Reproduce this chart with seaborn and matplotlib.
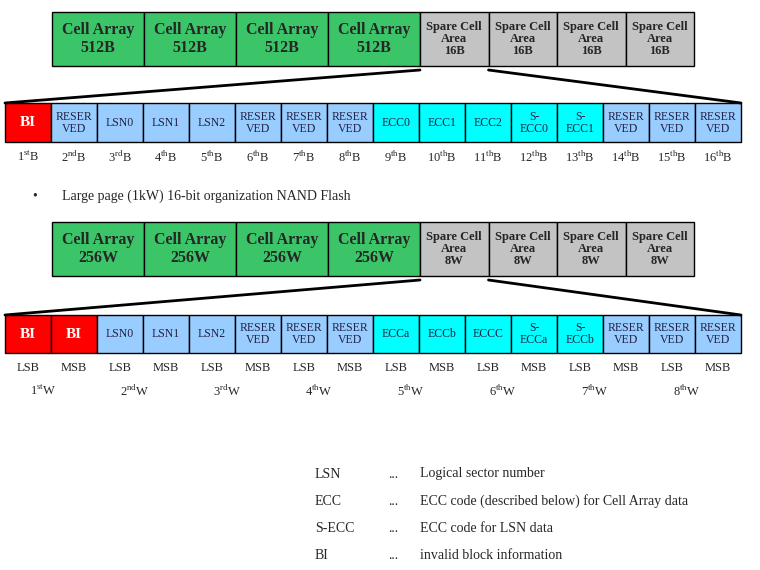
import matplotlib
matplotlib.use("Agg")
import matplotlib.pyplot as plt
import seaborn as sns

sns.set_theme(style="white")
plt.rcParams['font.family'] = ['Liberation Serif', 'DejaVu Serif']
plt.rcParams['mathtext.fontset'] = 'custom'
plt.rcParams['mathtext.rm'] = 'Liberation Serif'

top1_labels = ["Cell Array\n512B"] * 4 + ["Spare Cell\nArea\n16B"] * 4
top2_labels = ["Cell Array\n256W"] * 4 + ["Spare Cell\nArea\n8W"] * 4
top_kinds = ["cell"] * 4 + ["spare"] * 4
spare1_labels = ["BI", "RESER\nVED", "LSN0", "LSN1", "LSN2", "RESER\nVED", "RESER\nVED", "RESER\nVED",
                 "ECC0", "ECC1", "ECC2", "S-\nECC0", "S-\nECC1", "RESER\nVED", "RESER\nVED", "RESER\nVED"]
spare1_kinds = ["bi", "res", "res", "res", "res", "res", "res", "res",
                "ecc", "ecc", "ecc", "ecc", "ecc", "res", "res", "res"]
spare2_labels = ["BI", "BI", "LSN0", "LSN1", "LSN2", "RESER\nVED", "RESER\nVED", "RESER\nVED",
                 "ECCa", "ECCb", "ECCC", "S-\nECCa", "S-\nECCb", "RESER\nVED", "RESER\nVED", "RESER\nVED"]
spare2_kinds = ["bi", "bi", "res", "res", "res", "res", "res", "res",
                "ecc", "ecc", "ecc", "ecc", "ecc", "res", "res", "res"]
byte_ord = ["st", "nd", "rd", "th", "th", "th", "th", "th", "th", "th", "th", "th", "th", "th", "th", "th"]
word_ord = ["st", "nd", "rd", "th", "th", "th", "th", "th"]
lsb_msb = ["LSB", "MSB"] * 8
legend_terms = ["LSN", "ECC", "S-ECC", "BI"]
legend_desc = ["Logical sector number", "ECC code (described below) for Cell Array data",
               "ECC code for LSN data", "invalid block information"]

colors = {"cell": "#3cc568", "spare": "#c3c3c3", "bi": "#ff0000", "res": "#99ccff", "ecc": "#00ffff"}

fig = plt.figure(figsize=(7.6, 5.7), dpi=100)
ax = fig.add_axes([0, 0, 1, 1])
ax.set_xlim(0, 760)
ax.set_ylim(570, 0)
ax.axis("off")

cell_w, spare_w = 92, 68.5
top_x0 = 52
def top_row(labels, y0, y1):
    x = top_x0
    for lab, k in zip(labels, top_kinds):
        w = cell_w if k == "cell" else spare_w
        ax.bar(x, y1 - y0, width=w, bottom=y0, align="edge", color=colors[k], edgecolor="black", linewidth=1)
        if k == "cell":
            ax.text(x + w / 2, (y0 + y1) / 2, lab, ha="center", va="center", fontsize=11.5, fontweight="bold", linespacing=1.1)
        else:
            ax.text(x + w / 2, (y0 + y1) / 2, lab, ha="center", va="center", fontsize=9, fontweight="bold", linespacing=1.0)
        x += w

sx0, sw = 5, 46
def spare_row(labels, kinds, y0, y1):
    for i, (lab, k) in enumerate(zip(labels, kinds)):
        x = sx0 + i * sw
        ax.bar(x, y1 - y0, width=sw, bottom=y0, align="edge", color=colors[k], edgecolor="black", linewidth=1)
        if k == "bi":
            ax.text(x + sw / 2, (y0 + y1) / 2, lab, ha="center", va="center", fontsize=11, fontweight="bold", color="white")
        else:
            ax.text(x + sw / 2, (y0 + y1) / 2, lab, ha="center", va="center", fontsize=8.5, linespacing=1.0, color="#222244")

g0 = top_x0 + 4 * cell_w
# Section 1
top_row(top1_labels, 12, 66)
ax.plot([g0, 5], [70, 103], color="black", lw=2)
ax.plot([g0 + spare_w, 741], [70, 103], color="black", lw=2)
spare_row(spare1_labels, spare1_kinds, 103, 142)
for i, o in enumerate(byte_ord):
    ax.text(sx0 + i * sw + sw / 2, 157, f"{i + 1}$^{{\\rm {o}}}$B", ha="center", va="center", fontsize=9)

ax.text(35, 196, "•", ha="center", va="center", fontsize=10)
ax.text(62, 196, "Large page (1kW) 16-bit organization NAND Flash", ha="left", va="center", fontsize=10)

# Section 2
top_row(top2_labels, 222, 276)
ax.plot([g0, 5], [280, 315], color="black", lw=2)
ax.plot([g0 + spare_w, 741], [280, 315], color="black", lw=2)
spare_row(spare2_labels, spare2_kinds, 315, 353)
for i, lm in enumerate(lsb_msb):
    ax.text(sx0 + i * sw + sw / 2, 368, lm, ha="center", va="center", fontsize=9)
for j, o in enumerate(word_ord):
    ax.text(sx0 + (2 * j + 1) * sw - 8, 391, f"{j + 1}$^{{\\rm {o}}}$W", ha="center", va="center", fontsize=9)

for k, (t, d) in enumerate(zip(legend_terms, legend_desc)):
    y = 474 + k * 27.3
    ax.text(315, y, t, ha="left", va="center", fontsize=10)
    ax.text(388, y, "...", ha="left", va="center", fontsize=10)
    ax.text(420, y, d, ha="left", va="center", fontsize=10)

fig.savefig("out.png", dpi=100, facecolor="white")
